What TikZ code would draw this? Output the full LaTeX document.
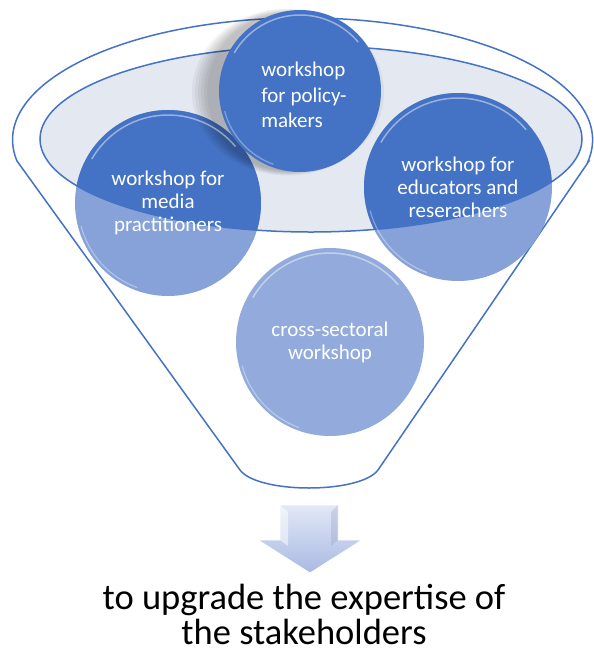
\documentclass[tikz,border=0pt]{standalone}
\usepackage{fontspec}
\setmainfont{Carlito}
\usepackage{xcolor}
\usepackage{tikz}
\usetikzlibrary{calc}
\definecolor{rim}{HTML}{4472C4}
\definecolor{dark}{HTML}{4472C4}
\definecolor{light}{HTML}{86A2D8}
\definecolor{pale}{HTML}{E4E8F1}
\definecolor{arrowtop}{HTML}{E2E8F6}
\definecolor{arrowbot}{HTML}{A9B9E3}

\begin{document}
\begin{tikzpicture}[x=1pt, y=-1pt,
  ws/.style={circle, minimum size=#1, inner sep=0pt, fill=light},
  wstext/.style={text=white, align=center, font=\fontsize{21}{23}\selectfont}]
\useasboundingbox (0,0) rectangle (594,657);

% layout the funnel: outer shell and its rim
\coordinate (M) at (311,139);
\draw[rim, line width=1.5pt, fill=white] (589,161) -- (378,470)
  .. controls (360,494) and (258,494) .. (240,470) -- (17,161)
  arc[start angle=190, end angle=-10, x radius=290pt, y radius=122pt] -- cycle;
\fill[pale] (M) ellipse[x radius=271pt, y radius=93pt];

% the four workshops
\node[ws=186pt] (media) at (168,203) {};
\node[ws=188pt] (educ) at (458,187) {};
\node[ws=188pt, fill=light!90!white] (cross) at (330,342) {};
\begin{scope}
\clip (M) ellipse[x radius=271pt, y radius=93pt];
\fill[dark] (media.center) circle (93pt);
\fill[dark] (educ.center) circle (94pt);
\end{scope}
\draw[rim, line width=1.5pt] (M) ellipse[x radius=271pt, y radius=93pt];

% shadow behind the top one, mostly on its left
\foreach \d in {0,3,...,15}
  \fill[black, opacity=0.045] (288,92) ellipse[x radius=81pt+\d pt, y radius=79pt+.3*\d pt];
\node[ws=162pt, fill=dark] (policy) at (300,91) {};

% glossy edges
\foreach \n/\r in {media/93, educ/94, cross/94, policy/81}{
  \draw[white, opacity=.45, line width=1.5pt]
    ($(\n.center)+(150:\r pt-5pt)$) arc[start angle=150, end angle=40, radius=\r pt-5pt];
  \draw[white, opacity=.35, line width=1.2pt]
    ($(\n.center)+(195:\r pt-3pt)$) arc[start angle=195, end angle=250, radius=\r pt-3pt];
}

\node[wstext] (mediatext) at (media.center) {workshop for\\media\\practitioners};
\node[wstext] (eductext) at (educ.center) {workshop for\\educators and\\reserachers};
\node[wstext] (crosstext) at (cross.center) {cross-sectoral\\workshop};
\node[wstext, align=left, font=\fontsize{21}{25.5}\selectfont] (policytext)
  at ($(policy.center)+(4,4)$) {workshop\\for policy-\\makers};

% the result
\shade[top color=arrowtop, bottom color=arrowbot, draw=white, line width=.8pt]
  (280,505) -- (338,505) -- (338,540) -- (362,540) -- (310,573)
  -- (258,540) -- (280,540) -- cycle;
\fill[white, opacity=.5] (280,505) -- (288,512) -- (288,546) -- (280,540) -- cycle;
\fill[arrowbot!80!black, opacity=.25] (338,505) -- (331,512) -- (331,546) -- (338,540) -- cycle;
\node[font=\fontsize{36.5}{35}\selectfont, align=center] (goal) at (304,614)
  {to upgrade the expertise of\\the stakeholders};

\end{tikzpicture}
\end{document}
